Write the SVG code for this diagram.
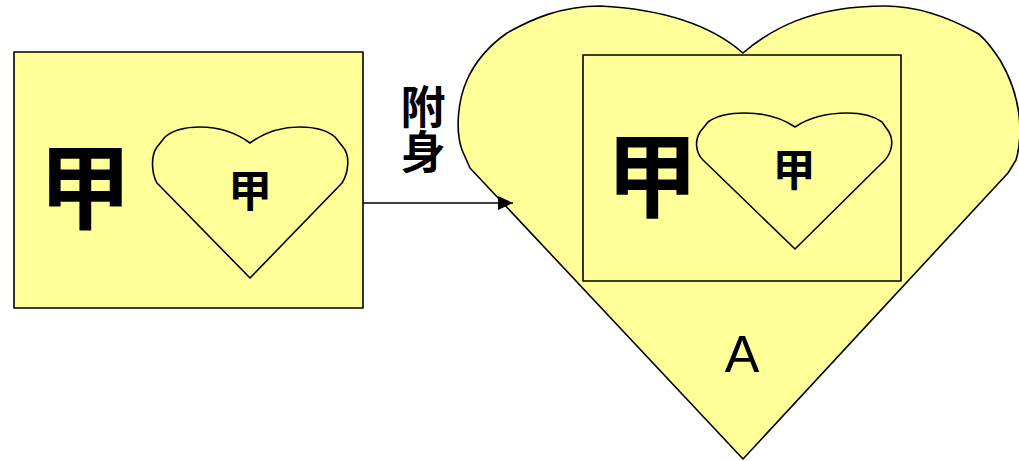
<svg xmlns="http://www.w3.org/2000/svg" width="1019" height="461" viewBox="0 0 1019 461">
<style>
.shape{fill:#FFFF99;stroke:#000;stroke-width:1.6;stroke-linejoin:round}
.cjk{font-family:"Noto Sans CJK SC","Noto Sans CJK JP",sans-serif;fill:#000;text-anchor:middle}
.b{font-weight:bold}
.lat{font-family:"Liberation Sans",Arial,sans-serif;fill:#000;text-anchor:middle}
.conn{stroke:#000;stroke-width:1.4;fill:none}
</style>
<defs>
<marker id="arrow" markerWidth="16" markerHeight="14" refX="15" refY="7" orient="auto" markerUnits="userSpaceOnUse">
<path d="M0,0 L15,7 L0,14 Z" fill="#000"/>
</marker>
</defs>
<g id="node-big-heart">
<path class="shape" d="M743,53 C720,33 680,10 600,6 C560,6 530,20 507,33 C490,45 475,62 467,80 C458,100 455,130 462,150 L470,168 L743,459 L1008,173 L1016,160 C1022,140 1024,100 1000,60 C992,48 985,38 977,33 C950,18 920,6 885,6 C810,6 770,30 743,53 Z"/>
<text class="lat" x="742" y="372" font-size="52">A</text>
</g>
<g id="node-left-box">
<rect class="shape" x="14" y="52" width="349" height="256"/>
<text class="cjk b" x="85" y="222" font-size="93">甲</text>
<g id="node-left-heart">
<path class="shape" d="M250,143 C235,132 220,127 200,127 C185,127 172,131 165,137 L157,147 C151,155 151,172 157,183 L250,278 L342,183 C349,172 350,155 343,147 L335,137 C328,131 315,127 300,127 C280,127 265,132 250,143 Z"/>
<text class="cjk b" x="250" y="207" font-size="44">甲</text>
</g>
</g>
<g id="node-inner-box">
<rect class="shape" x="583" y="55" width="318" height="226"/>
<text class="cjk b" x="652" y="210" font-size="92">甲</text>
<g id="node-inner-heart">
<path class="shape" d="M795,127 C780,117 765,113 745,113 C730,113 716,116 708,122 L700,132 C695,140 695,152 703,160 L795,249 L885,160 C892,152 894,140 889,132 L882,122 C874,116 862,113 847,113 C827,113 810,117 795,127 Z"/>
<text class="cjk b" x="794" y="186" font-size="43">甲</text>
</g>
</g>
<g id="connectors">
<line class="conn" x1="363" y1="203" x2="513" y2="203" marker-end="url(#arrow)"/>
<text class="cjk b" x="423" y="84" font-size="45" style="writing-mode:vertical-rl;text-anchor:start">附身</text>
</g>
</svg>
